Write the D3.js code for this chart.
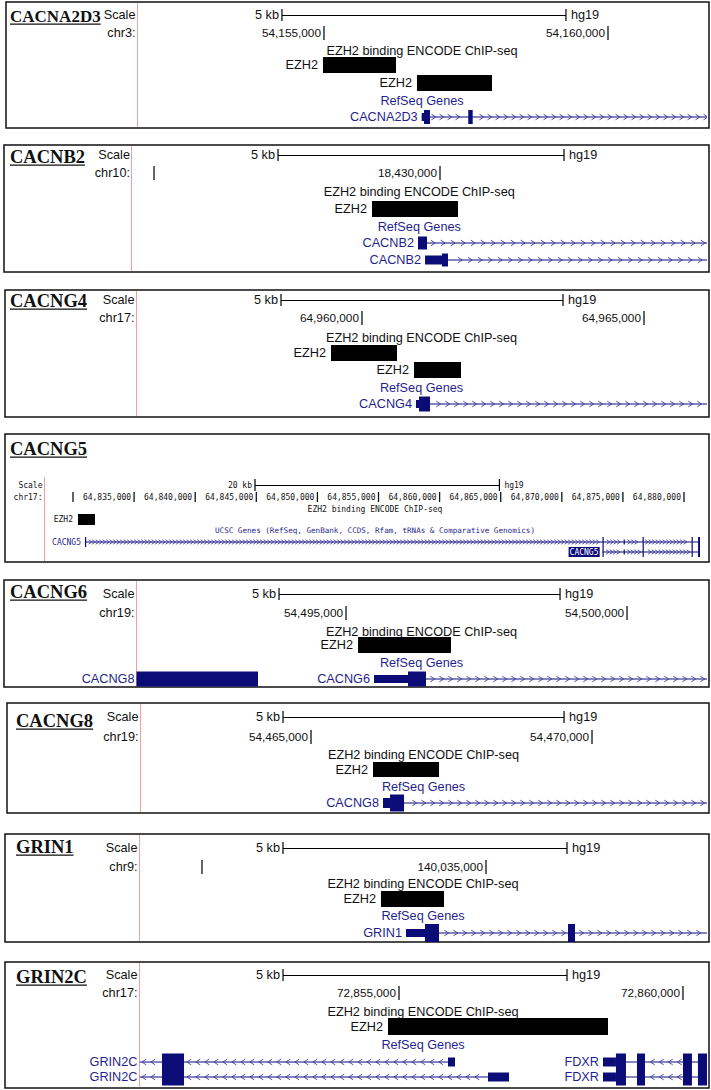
<!DOCTYPE html>
<html>
<head>
<meta charset="utf-8">
<script src="https://cdn.jsdelivr.net/npm/d3@7"></script>
<style>
  body { margin: 0; background: #fff; }
  svg { display: block; }
</style>
</head>
<body>
<svg id="fig" width="711" height="1090"></svg>
<script>
// ---- data (genomic coordinates, hg19) ----
const TITLES = ["CACNA2D3", "CACNB2", "CACNG4", "CACNG5", "CACNG6", "CACNG8", "GRIN1", "GRIN2C"];
const CHROMS = ["chr3:", "chr10:", "chr17:", "chr17:", "chr19:", "chr19:", "chr9:", "chr17:"];
const VIEWS = [
  [54151717, 54161743],
  [18424615, 18434668],
  [64956002, 64966117],
  [64827668, 64881800],
  [54491272, 54501423],
  [54461966, 54472046],
  [140028900, 140038891],
  [72850431, 72860423]
];
const TICKS = [
  [54155000, 54160000],
  [18425000, 18430000],
  [64960000, 64965000],
  [64830000, 64835000, 64840000, 64845000, 64850000, 64855000, 64860000, 64865000, 64870000, 64875000, 64880000],
  [54495000, 54500000],
  [54465000, 54470000],
  [140030000, 140035000],
  [72855000, 72860000]
];
const UNLABELED_TICKS = [[], [18425000], [], [64830000], [], [], [140030000], []];
const SCALE_BARS = [
  [54154260, 5000], [18427168, 5000], [64958564, 5000], [64844894, 20000],
  [54493808, 5000], [54464502, 5000], [140031426, 5000], [72852958, 5000]
];
const SCALE_LABELS = ["5 kb", "5 kb", "5 kb", "20 kb", "5 kb", "5 kb", "5 kb", "5 kb"];
const ASSEMBLY = "hg19";
const PEAK_TRACK = "EZH2 binding ENCODE ChIP-seq";
const PEAK_LABEL = "EZH2";
// [start, end, row]
const PEAKS = [
  [[54154982, 54156268, 0], [54156637, 54157958, 1]],
  [[18428811, 18430315, 0]],
  [[64959450, 64960621, 0], [64960922, 64961755, 1]],
  [[64830409, 64831800, 0]],
  [[54495214, 54496868, 0]],
  [[54466103, 54467278, 0]],
  [[140033151, 140034261, 0]],
  [[72854806, 72858680, 0]]
];
const GENE_TRACKS = [
  "RefSeq Genes", "RefSeq Genes", "RefSeq Genes",
  "UCSC Genes (RefSeq, GenBank, CCDS, Rfam, tRNAs & Comparative Genomics)",
  "RefSeq Genes", "RefSeq Genes", "RefSeq Genes", "RefSeq Genes"
];
// exons: [start, end, coding(1) / utr(0)]
const TRANSCRIPTS = [
  [{ name: "CACNA2D3", row: 0, strand: "+", start: 54156720, end: 54170000,
     exons: [[54156720, 54156761, 0], [54156761, 54156866, 1], [54157540, 54157618, 1]] }],
  [{ name: "CACNB2", row: 0, strand: "+", start: 18429615, end: 18440000,
     exons: [[18429615, 18429773, 1]] },
   { name: "CACNB2", row: 1, strand: "+", start: 18429738, end: 18440000,
     exons: [[18429738, 18430035, 0], [18430035, 18430140, 1]] }],
  [{ name: "CACNG4", row: 0, strand: "+", start: 64960957, end: 64970000,
     exons: [[64960957, 64961011, 0], [64961011, 64961206, 1]] }],
  [{ name: "CACNG5", row: 0, strand: "+", start: 64830982, end: 64881309,
     exons: [[64830982, 64831060, 1], [64873330, 64873420, 1], [64875060, 64875120, 0],
             [64876610, 64876700, 1], [64880620, 64880700, 1], [64881150, 64881309, 1]] },
   { name: "CACNG5", row: 1, strand: "+", start: 64873330, end: 64881309, highlight: true,
     exons: [[64873330, 64873420, 1], [64875060, 64875120, 0], [64876610, 64876700, 1],
             [64880620, 64880700, 1], [64881150, 64881309, 1]] }],
  [{ name: "CACNG8", row: 0, strand: "+", start: 54490000, end: 54493434,
     exons: [[54490000, 54493434, 1]] },
   { name: "CACNG6", row: 0, strand: "+", start: 54495498, end: 54510000,
     exons: [[54495498, 54496103, 0], [54496103, 54496423, 1]] }],
  [{ name: "CACNG8", row: 0, strand: "+", start: 54466281, end: 54480000,
     exons: [[54466281, 54466406, 0], [54466406, 54466655, 1]] }],
  [{ name: "GRIN1", row: 0, strand: "+", start: 140033592, end: 140060000,
     exons: [[140033592, 140033926, 0], [140033926, 140034173, 1], [140036444, 140036567, 1]] }],
  [{ name: "GRIN2C", row: 0, strand: "-", start: 72845000, end: 72855986,
     exons: [[72850827, 72851215, 1], [72855863, 72855986, 0]] },
   { name: "FDXR", row: 0, strand: "-", start: 72858592, end: 72870000,
     exons: [[72858592, 72858820, 0], [72858820, 72858996, 1], [72859190, 72859331, 1],
             [72860000, 72860158, 1], [72860264, 72860700, 1]] },
   { name: "GRIN2C", row: 1, strand: "-", start: 72845000, end: 72856937,
     exons: [[72850827, 72851215, 1], [72856567, 72856937, 0]] },
   { name: "FDXR", row: 1, strand: "-", start: 72858592, end: 72870000,
     exons: [[72858592, 72858820, 0], [72858820, 72858996, 1], [72859190, 72859331, 1],
             [72860000, 72860158, 1], [72860264, 72860700, 1]] }]
];

// ---- layout of the eight pasted browser shots ----
const LAYOUT = [
  { box: [6, 2, 709, 128], redX: 137, imgR: 707, titleX: 10, titleY: 22, titleSize: 17,
    scaleY: 15, chrY: 33, headY: 51, peakTop: 57, peakStep: 18, peakH: 16,
    trackY: 101, geneY: 117, geneStep: 17, cdsH: 14, utrH: 8, arrowGap: 8 },
  { box: [4, 145, 709, 272], redX: 131.5, imgR: 707, titleX: 10, titleY: 163, titleSize: 18.5,
    scaleY: 155, chrY: 173, headY: 192, peakTop: 201, peakStep: 18, peakH: 16,
    trackY: 227, geneY: 243, geneStep: 17, cdsH: 13, utrH: 9, arrowGap: 10 },
  { box: [5, 290, 709, 417], redX: 136, imgR: 707, titleX: 10, titleY: 307, titleSize: 18.5,
    scaleY: 300, chrY: 318, headY: 338, peakTop: 345, peakStep: 17, peakH: 16,
    trackY: 388, geneY: 404, geneStep: 17, cdsH: 15, utrH: 8, arrowGap: 9 },
  { box: [5, 434, 709, 562], redX: 44, redTop: 477, imgR: 706, titleX: 10, titleY: 455, titleSize: 18.5,
    scaleY: 485, chrY: 497, headY: 509, peakTop: 514, peakStep: 12, peakH: 11,
    trackY: 530, geneY: 542, geneStep: 10, cdsH: 10, utrH: 5, arrowGap: 3.5, mono: true },
  { box: [4, 580, 709, 687], redX: 136, imgR: 707, titleX: 10, titleY: 598, titleSize: 18.5,
    scaleY: 594, chrY: 613, headY: 632, peakTop: 637, peakStep: 18, peakH: 16,
    trackY: 663, geneY: 679, geneStep: 17, cdsH: 15, utrH: 8, arrowGap: 9 },
  { box: [7, 703, 709, 813], redX: 140, imgR: 707, titleX: 16, titleY: 727, titleSize: 18.5,
    scaleY: 717, chrY: 737, headY: 755, peakTop: 762, peakStep: 18, peakH: 15,
    trackY: 787, geneY: 803, geneStep: 17, cdsH: 17, utrH: 10, arrowGap: 9 },
  { box: [5, 834, 709, 942], redX: 139, imgR: 707, titleX: 16, titleY: 853, titleSize: 18.5,
    scaleY: 848, chrY: 867, headY: 884, peakTop: 891, peakStep: 18, peakH: 16,
    trackY: 916, geneY: 933, geneStep: 17, cdsH: 18, utrH: 8, arrowGap: 9 },
  { box: [5, 962, 709, 1088], redX: 139, imgR: 707, titleX: 16, titleY: 983, titleSize: 18.5,
    scaleY: 975, chrY: 993, headY: 1012, peakTop: 1018, peakStep: 18, peakH: 17,
    trackY: 1045, geneY: 1062, geneStep: 15, cdsH: 17, utrH: 9, arrowGap: 9 }
];

const SANS = "'Liberation Sans', Arial, sans-serif";
const MONO = "'DejaVu Sans Mono', monospace";
const SERIF = "'Liberation Serif', 'Times New Roman', serif";
const NAVY = "#0c0c78", NAVY_TEXT = "#1f1f8e", ARROW = "#3a3aa6", GUIDE = "#f0a0a0";

const svg = d3.select("#fig");

function label(g, x, y, s, opt = {}) {
  return g.append("text")
    .attr("x", x).attr("y", y).attr("dy", "0.35em")
    .attr("text-anchor", opt.anchor || "start")
    .attr("font-family", opt.family || SANS)
    .attr("font-size", opt.size || 12.7)
    .attr("fill", opt.fill || "#111")
    .text(s);
}

LAYOUT.forEach((L, i) => {
  const g = svg.append("g");
  const [bx0, by0, bx1, by1] = L.box;
  const x = d3.scaleLinear().domain(VIEWS[i]).range([L.redX + 0.5, L.imgR]);
  const fam = L.mono ? MONO : SANS;
  const fs = L.mono ? 8 : 12.7, fsNum = L.mono ? 8 : 11.8;
  const labelR = L.redX - 1.5;

  g.append("rect")
    .attr("x", bx0).attr("y", by0).attr("width", bx1 - bx0).attr("height", by1 - by0)
    .attr("fill", "#fff").attr("stroke", "#111").attr("stroke-width", 1.5);

  // pink guide line, snapped to a pixel column
  const gx = Math.floor(L.redX) + 0.5;
  g.append("line")
    .attr("x1", gx).attr("x2", gx)
    .attr("y1", L.redTop != null ? L.redTop : by0 + 1).attr("y2", by1 - 1)
    .attr("stroke", GUIDE).attr("stroke-width", 1);

  // gene title, bold serif underlined
  const t = g.append("text")
    .attr("x", L.titleX).attr("y", L.titleY)
    .attr("font-family", SERIF).attr("font-weight", "bold")
    .attr("font-size", L.titleSize).attr("fill", "#111")
    .text(TITLES[i]);
  const tw = t.node().getComputedTextLength();
  g.append("line")
    .attr("x1", L.titleX).attr("x2", L.titleX + tw)
    .attr("y1", L.titleY + 2.2).attr("y2", L.titleY + 2.2)
    .attr("stroke", "#111").attr("stroke-width", 1.2);

  // side labels
  label(g, labelR, L.scaleY, "Scale", { anchor: "end", family: fam, size: fs });
  label(g, labelR, L.chrY, CHROMS[i], { anchor: "end", family: fam, size: fs });

  // scale bar
  const [sb0, sbLen] = SCALE_BARS[i];
  const sx0 = x(sb0), sx1 = x(sb0 + sbLen);
  const sy = Math.round(L.scaleY) + 0.5;
  g.append("line").attr("x1", sx0).attr("x2", sx1).attr("y1", sy).attr("y2", sy)
    .attr("stroke", "#000").attr("stroke-width", 1.1);
  [sx0, sx1].forEach(v => g.append("line").attr("x1", v).attr("x2", v)
    .attr("y1", L.scaleY - 6).attr("y2", L.scaleY + 6).attr("stroke", "#000").attr("stroke-width", 1.2));
  label(g, sx0 - 3, L.scaleY, SCALE_LABELS[i], { anchor: "end", family: fam, size: fs });
  label(g, sx1 + 5, L.scaleY, ASSEMBLY, { family: fam, size: fs });

  // position ticks
  const fmt = d3.format(",");
  TICKS[i].forEach(p => {
    const px = x(p);
    g.append("line").attr("x1", px).attr("x2", px)
      .attr("y1", L.chrY - (L.mono ? 5 : 7)).attr("y2", L.chrY + (L.mono ? 5 : 7))
      .attr("stroke", "#111").attr("stroke-width", 1.3);
    if (!UNLABELED_TICKS[i].includes(p)) {
      label(g, px - 3, L.chrY, fmt(p), { anchor: "end", family: fam, size: fsNum });
    }
  });

  const mid = (L.redX + L.imgR) / 2;
  label(g, mid, L.headY, PEAK_TRACK, { anchor: "middle", family: fam, size: fs });

  // EZH2 peaks
  PEAKS[i].forEach(([s, e, row]) => {
    const y0 = L.peakTop + row * L.peakStep;
    g.append("rect").attr("x", x(s)).attr("y", y0)
      .attr("width", x(e) - x(s)).attr("height", L.peakH).attr("fill", "#000");
    label(g, x(s) - 5, y0 + L.peakH / 2, PEAK_LABEL, { anchor: "end", family: fam, size: fs });
  });

  label(g, mid, L.trackY, GENE_TRACKS[i], {
    anchor: "middle", family: fam, size: L.mono ? 7.6 : fs, fill: NAVY_TEXT
  });

  // gene models, clipped to the image area
  const clipId = "clip" + i;
  g.append("clipPath").attr("id", clipId).append("rect")
    .attr("x", L.redX + 0.5).attr("y", by0).attr("width", L.imgR - L.redX - 0.5).attr("height", by1 - by0);
  const gg = g.append("g").attr("clip-path", `url(#${clipId})`);
  const [v0, v1] = x.range();

  TRANSCRIPTS[i].forEach(tr => {
    const cy = L.geneY + tr.row * L.geneStep;
    const lx0 = Math.max(x(tr.start), v0), lx1 = Math.min(x(tr.end), v1);
    gg.append("line").attr("x1", lx0).attr("x2", lx1).attr("y1", cy).attr("y2", cy)
      .attr("stroke", NAVY).attr("stroke-width", 1);

    const exPx = tr.exons.map(([s, e]) => [x(s), x(e)]);
    const aw = L.mono ? 1.6 : 2.2, ah = L.mono ? 2.2 : 2.8;
    d3.range(lx0 + L.arrowGap / 2, lx1 - 1, L.arrowGap)
      .filter(p => !exPx.some(([a, b]) => p > a - 3 && p < b + 3))
      .forEach(p => {
        const d = tr.strand === "+"
          ? `M${p - aw},${cy - ah} L${p + aw},${cy} L${p - aw},${cy + ah}`
          : `M${p + aw},${cy - ah} L${p - aw},${cy} L${p + aw},${cy + ah}`;
        gg.append("path").attr("d", d).attr("fill", "none")
          .attr("stroke", ARROW).attr("stroke-width", 0.9);
      });

    tr.exons.forEach(([s, e, cds]) => {
      const h = cds ? L.cdsH : L.utrH;
      gg.append("rect").attr("x", x(s)).attr("y", cy - h / 2)
        .attr("width", Math.max(x(e) - x(s), 1.2)).attr("height", h).attr("fill", NAVY);
    });

    // name label: left of the transcript, or in the left margin when it starts off-screen
    const nx = x(tr.start) > v0 ? x(tr.start) - 4 : labelR;
    const lab = label(g, nx, cy, tr.name, {
      anchor: "end", family: fam, size: fs, fill: tr.highlight ? "#fff" : NAVY_TEXT
    });
    if (tr.highlight) {
      const bb = lab.node().getBBox();
      g.insert("rect", () => lab.node())
        .attr("x", bb.x - 1).attr("y", cy - 5).attr("width", bb.width + 2).attr("height", 10)
        .attr("fill", NAVY);
    }
  });
});
</script>
</body>
</html>
